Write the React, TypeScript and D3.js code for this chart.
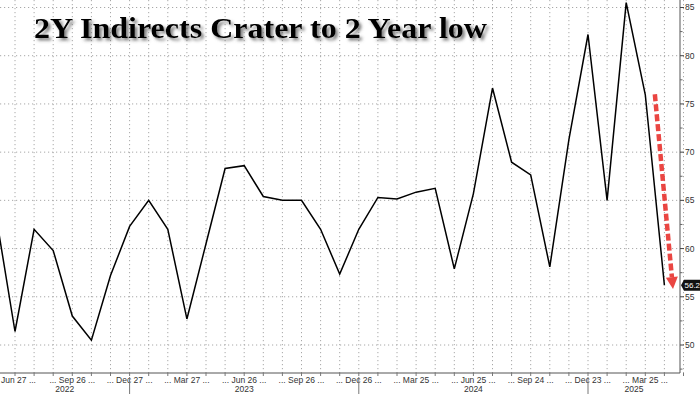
import React from 'react';
import * as d3 from 'd3';

const W = 700;
const H = 394;

const title = '2Y Indirects Crater to 2 Year low';

// Monthly 2Y note auctions (May 2022 .. Apr 2025), indirect bidders %
const months = [
  'May 22', 'Jun 22', 'Jul 22', 'Aug 22', 'Sep 22', 'Oct 22', 'Nov 22', 'Dec 22',
  'Jan 23', 'Feb 23', 'Mar 23', 'Apr 23', 'May 23', 'Jun 23', 'Jul 23', 'Aug 23',
  'Sep 23', 'Oct 23', 'Nov 23', 'Dec 23', 'Jan 24', 'Feb 24', 'Mar 24', 'Apr 24',
  'May 24', 'Jun 24', 'Jul 24', 'Aug 24', 'Sep 24', 'Oct 24', 'Nov 24', 'Dec 24',
  'Jan 25', 'Feb 25', 'Mar 25', 'Apr 25',
];
const indirects = [
  63.5, 51.4, 62.0, 59.8, 53.0, 50.5, 57.2, 62.3,
  65.0, 62.0, 52.7, 60.5, 68.3, 68.6, 65.4, 65.0,
  65.0, 62.0, 57.35, 62.0, 65.3, 65.15, 65.85, 66.25,
  57.9, 65.7, 76.65, 68.96, 67.64, 58.1, 71.3, 82.2,
  65.0, 85.5, 75.95, 56.2,
];

const tickIndices = [1, 4, 7, 10, 13, 16, 19, 22, 25, 28, 31, 34];
const tickLabels = ['Jun 27', 'Sep 26', 'Dec 27', 'Mar 27', 'Jun 26', 'Sep 26', 'Dec 26', 'Mar 25', 'Jun 25', 'Sep 24', 'Dec 23', 'Mar 25'];
const years = ['2022', '2023', '2024', '2025'];
const yearBreakIndices = [7, 19, 31];
const yTicks = [50, 55, 60, 65, 70, 75, 80, 85];
const yMinorTicks = [47.5, 52.5, 57.5, 62.5, 67.5, 72.5, 77.5, 82.5];
const arrowFrom = { i: 34.5, v: 76 };
const arrowTo = { i: 35.45, v: 55.8 };

export default function App() {
  const plotRight = 680;
  const plotBottom = 373;

  const x = d3.scaleLinear().domain([0, months.length - 1]).range([-4.1, 664.4]);
  const y = d3.scaleLinear().domain([50, 85]).range([345, 7.5]);

  const line = d3
    .line<number>()
    .x((_, i) => x(i))
    .y((d) => y(d));

  const gridIdx = d3.range(1, months.length + 1);

  const bounds = [0, ...yearBreakIndices.map((i) => x(i)), plotRight];

  // arrow geometry
  const ax1 = x(arrowFrom.i), ay1 = y(arrowFrom.v);
  const ax2 = x(arrowTo.i), ay2 = y(arrowTo.v);
  const ang = Math.atan2(ay2 - ay1, ax2 - ax1);
  const headLen = 12, headW = 6;
  const bx = ax2 - headLen * Math.cos(ang), by = ay2 - headLen * Math.sin(ang);
  const px = -Math.sin(ang), py = Math.cos(ang);
  const head = `M${ax2},${ay2} L${bx + headW * px},${by + headW * py} L${bx - headW * px},${by - headW * py} Z`;

  const last = indirects[indirects.length - 1];
  const ly = y(last);

  const axisFont = "'Liberation Sans', Arial, sans-serif";

  return (
    <svg
      width={W}
      height={H}
      style={{ position: 'absolute', left: 0, top: 0, background: '#fff' }}
    >
      <defs>
        <clipPath id="plot">
          <rect x={0} y={0} width={plotRight} height={plotBottom} />
        </clipPath>
        <filter id="shadow" x="-5%" y="-30%" width="115%" height="180%">
          <feDropShadow dx="2.5" dy="2.5" stdDeviation="1.6" floodColor="#555" floodOpacity="0.75" />
        </filter>
        <filter id="soft" x="-20%" y="-5%" width="140%" height="110%">
          <feGaussianBlur stdDeviation="0.5" />
        </filter>
      </defs>
      <rect x={0} y={0} width={W} height={H} fill="#fff" />

      {/* grid */}
      <g stroke="#a8a8a8" strokeWidth={1} strokeDasharray="1.2,2.8">
        {yTicks.map((t) => (
          <line key={'h' + t} x1={0} x2={plotRight} y1={y(t)} y2={y(t)} />
        ))}
        {gridIdx.map((i) => (
          <line key={'v' + i} x1={x(i)} x2={x(i)} y1={0} y2={plotBottom} />
        ))}
      </g>

      {/* title */}
      <text
        x={34}
        y={37.5}
        fontFamily="'Liberation Serif', 'Times New Roman', serif"
        fontWeight="bold"
        fontSize={30}
        textLength={453}
        lengthAdjust="spacingAndGlyphs"
        fill="#000"
        filter="url(#shadow)"
      >
        {title}
      </text>

      {/* series */}
      <g clipPath="url(#plot)">
        <path d={line(indirects) || ''} fill="none" stroke="#000" strokeWidth={1.5} strokeLinejoin="miter" />
      </g>

      {/* red arrow */}
      <g filter="url(#soft)" opacity={0.9}>
        <line x1={ax1} y1={ay1} x2={bx} y2={by} stroke="#e8312f" strokeWidth={4.5} strokeDasharray="7,3" />
        <path d={head} fill="#e8312f" />
      </g>

      {/* axes */}
      <line x1={0} x2={plotRight} y1={plotBottom} y2={plotBottom} stroke="#555" strokeWidth={1} />
      <line x1={plotRight} x2={plotRight} y1={0} y2={plotBottom} stroke="#555" strokeWidth={1} />

      {yTicks.map((t) => (
        <g key={'yt' + t}>
          <line x1={plotRight} x2={plotRight + 4} y1={y(t)} y2={y(t)} stroke="#444" />
          <text x={plotRight + 5} y={y(t)} dy="0.35em" fontFamily={axisFont} fontSize={8.5} fill="#333">
            {t}
          </text>
        </g>
      ))}
      {yMinorTicks.map((t) => (
        <line key={'ym' + t} x1={plotRight} x2={plotRight + 2.5} y1={y(t)} y2={y(t)} stroke="#666" />
      ))}

      {gridIdx.map((i) => (
        <line key={'xt' + i} x1={x(i)} x2={x(i)} y1={plotBottom} y2={plotBottom + 3} stroke="#777" />
      ))}

      {tickIndices.map((i, k) =>
        k === 0 ? (
          <text
            key={'xl' + k}
            x={1}
            y={383}
            textAnchor="start"
            fontFamily={axisFont}
            fontSize={8.5}
            fill="#333"
          >
            {`${tickLabels[k]} ...`}
          </text>
        ) : (
          <text
            key={'xl' + k}
            x={x(i)}
            y={383}
            textAnchor="middle"
            fontFamily={axisFont}
            fontSize={8.5}
            fill="#333"
          >
            {`... ${tickLabels[k]} ...`}
          </text>
        )
      )}

      {yearBreakIndices.map((i) => (
        <line key={'yb' + i} x1={x(i)} x2={x(i)} y1={plotBottom + 4} y2={H} stroke="#777" />
      ))}
      {years.map((yr, k) => (
        <text
          key={yr}
          x={(bounds[k] + bounds[k + 1]) / 2}
          y={392}
          textAnchor="middle"
          fontFamily={axisFont}
          fontSize={8.5}
          fill="#333"
        >
          {yr}
        </text>
      ))}

      {/* last value tag */}
      <path
        d={`M${plotRight + 1},${ly} L${plotRight + 4},${ly - 5.5} L${W},${ly - 5.5} L${W},${ly + 5.5} L${plotRight + 4},${ly + 5.5} Z`}
        fill="#111"
      />
      <text x={plotRight + 4.5} y={ly} dy="0.35em" fontFamily={axisFont} fontSize={8} fill="#fff">
        {last.toFixed(1)}
      </text>
    </svg>
  );
}
